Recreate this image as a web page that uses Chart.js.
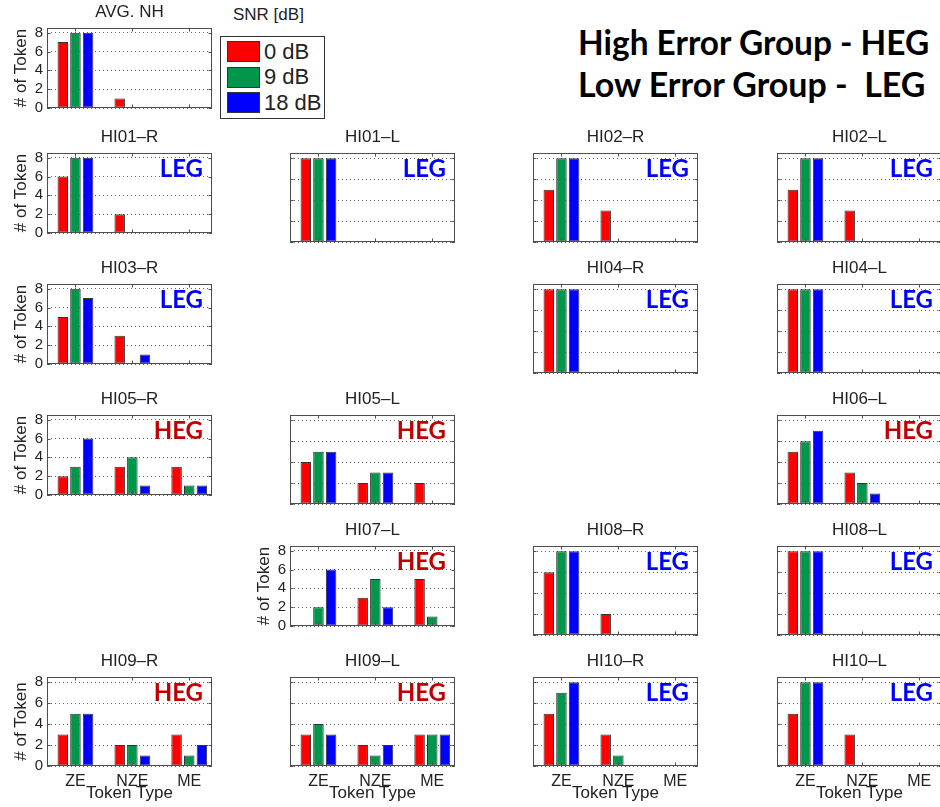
<!DOCTYPE html>
<html>
<head>
<meta charset="utf-8">
<script src="https://cdn.jsdelivr.net/npm/chart.js@4.4.1/dist/chart.umd.min.js"></script>
<style>
  body { margin: 0; width: 940px; height: 807px; overflow: hidden; background: #fff; position: relative;
         font-family: "Liberation Sans", Arial, sans-serif; color: #222; }
  canvas.panel { position: absolute; }
  .hdr { position: absolute; left: 578px; font-family: Lato, sans-serif; font-weight: bold; font-size: 30px;
         line-height: 1; white-space: pre; color: #000; }
  #snrTitle { position: absolute; left: 233px; top: 6px; font-size: 17px; line-height: 1; }
  #legendBox { position: absolute; left: 220px; top: 36px; width: 103px; height: 81px; border: 1px solid #333; }
  .lg-row { position: absolute; left: 6px; height: 21px; display: flex; align-items: center; }
  .lg-sw { width: 31px; height: 19px; border: 1px solid #333; margin-right: 4px; }
  .lg-tx { font-size: 22px; line-height: 1; }
</style>
</head>
<body>

<div class="hdr" id="hdr1" style="top:26px">High Error Group - HEG</div>
<div class="hdr" id="hdr2" style="top:68px">Low Error Group -  LEG</div>

<div id="snrTitle">SNR [dB]</div>
<div id="legendBox"></div>

<script>
// Token types on the x axis, SNR levels and y ticks
const categories = ['ZE', 'NZE', 'ME'];
const snrLabels = ['0 dB', '9 dB', '18 dB'];
const snrColors = ['#ff0000', '#00964b', '#0000ff'];
const yTicks = [0, 2, 4, 6, 8];

// each panel: [0 dB, 9 dB, 18 dB], values for ZE / NZE / ME
const avgNH = [[7, 1, 0], [8, 0, 0], [8, 0, 0]];
const hi01R = [[6, 2, 0], [8, 0, 0], [8, 0, 0]];
const hi01L = [[8, 0, 0], [8, 0, 0], [8, 0, 0]];
const hi02R = [[5, 3, 0], [8, 0, 0], [8, 0, 0]];
const hi02L = [[5, 3, 0], [8, 0, 0], [8, 0, 0]];
const hi03R = [[5, 3, 0], [8, 0, 0], [7, 1, 0]];
const hi04R = [[8, 0, 0], [8, 0, 0], [8, 0, 0]];
const hi04L = [[8, 0, 0], [8, 0, 0], [8, 0, 0]];
const hi05R = [[2, 3, 3], [3, 4, 1], [6, 1, 1]];
const hi05L = [[4, 2, 2], [5, 3, 0], [5, 3, 0]];
const hi06L = [[5, 3, 0], [6, 2, 0], [7, 1, 0]];
const hi07L = [[0, 3, 5], [2, 5, 1], [6, 2, 0]];
const hi08R = [[6, 2, 0], [8, 0, 0], [8, 0, 0]];
const hi08L = [[8, 0, 0], [8, 0, 0], [8, 0, 0]];
const hi09R = [[3, 2, 3], [5, 2, 1], [5, 1, 2]];
const hi09L = [[3, 2, 3], [4, 1, 3], [3, 2, 3]];
const hi10R = [[5, 3, 0], [7, 1, 0], [8, 0, 0]];
const hi10L = [[5, 3, 0], [8, 0, 0], [8, 0, 0]];

// grid of panels
const colX = [47, 290, 533, 777];
const rowY = [28, 153, 284, 415, 546, 677];
const PLOT_W = 165, PLOT_H = 89;
const PAD_L = 40, PAD_T = 28, PAD_R = 4;

const panels = [
    { title: 'AVG. NH', data: avgNH, col: 0, row: 0, tag: null, yLab: true },
    { title: 'HI01–R', data: hi01R, col: 0, row: 1, tag: 'LEG', yLab: true },
    { title: 'HI01–L', data: hi01L, col: 1, row: 1, tag: 'LEG' },
    { title: 'HI02–R', data: hi02R, col: 2, row: 1, tag: 'LEG' },
    { title: 'HI02–L', data: hi02L, col: 3, row: 1, tag: 'LEG' },
    { title: 'HI03–R', data: hi03R, col: 0, row: 2, tag: 'LEG', yLab: true },
    { title: 'HI04–R', data: hi04R, col: 2, row: 2, tag: 'LEG' },
    { title: 'HI04–L', data: hi04L, col: 3, row: 2, tag: 'LEG' },
    { title: 'HI05–R', data: hi05R, col: 0, row: 3, tag: 'HEG', yLab: true },
    { title: 'HI05–L', data: hi05L, col: 1, row: 3, tag: 'HEG' },
    { title: 'HI06–L', data: hi06L, col: 3, row: 3, tag: 'HEG' },
    { title: 'HI07–L', data: hi07L, col: 1, row: 4, tag: 'HEG', yLab: true },
    { title: 'HI08–R', data: hi08R, col: 2, row: 4, tag: 'LEG' },
    { title: 'HI08–L', data: hi08L, col: 3, row: 4, tag: 'LEG' },
    { title: 'HI09–R', data: hi09R, col: 0, row: 5, tag: 'HEG', yLab: true, xLab: true },
    { title: 'HI09–L', data: hi09L, col: 1, row: 5, tag: 'HEG', xLab: true },
    { title: 'HI10–R', data: hi10R, col: 2, row: 5, tag: 'LEG', xLab: true },
    { title: 'HI10–L', data: hi10L, col: 3, row: 5, tag: 'LEG', xLab: true }
];

// box, inner ticks, title and HEG/LEG tag (matlab look)
const panelDecor = {
    id: 'panelDecor',
    afterDraw(chart, args, opts) {
        const { ctx, chartArea: a, scales } = chart;
        const L = Math.round(a.left) + 0.5, R = Math.round(a.right) - 0.5;
        const T = Math.round(a.top) + 0.5, B = Math.round(a.bottom) - 0.5;
        ctx.save();
        ctx.strokeStyle = '#4d4d4d';
        ctx.lineWidth = 1;
        ctx.beginPath();
        categories.forEach((c, i) => {
            const px = Math.round(scales.x.getPixelForValue(i + 1)) + 0.5;
            ctx.moveTo(px, T); ctx.lineTo(px, T + 3);
            ctx.moveTo(px, B); ctx.lineTo(px, B - 3);
        });
        yTicks.forEach(v => {
            const py = Math.round(scales.y.getPixelForValue(v)) + 0.5;
            ctx.moveTo(L, py); ctx.lineTo(L + 3, py);
            ctx.moveTo(R, py); ctx.lineTo(R - 3, py);
        });
        ctx.stroke();
        ctx.strokeRect(L, T, R - L, B - T);

        ctx.fillStyle = '#222';
        ctx.font = '17px "Liberation Sans", Arial, sans-serif';
        ctx.textAlign = 'center';
        ctx.textBaseline = 'alphabetic';
        ctx.fillText(opts.title, (a.left + a.right) / 2, a.top - 11);

        if (opts.tag) {
            ctx.font = 'bold 24px Lato, sans-serif';
            ctx.fillStyle = opts.tag === 'HEG' ? '#c00000' : '#0000ff';
            ctx.textAlign = 'right';
            ctx.fillText(opts.tag, a.right - 9, a.top + 24);
        }
        ctx.restore();
    }
};

panels.forEach(p => {
    const xh = p.xLab ? 42 : 4;
    const cv = document.createElement('canvas');
    cv.className = 'panel';
    cv.width = PAD_L + PLOT_W + PAD_R;
    cv.height = PAD_T + PLOT_H + xh;
    cv.style.left = (colX[p.col] - PAD_L) + 'px';
    cv.style.top = (rowY[p.row] - PAD_T) + 'px';
    document.body.appendChild(cv);

    new Chart(cv.getContext('2d'), {
        type: 'bar',
        data: {
            datasets: p.data.map((vals, k) => ({
                label: snrLabels[k],
                data: vals.map((v, i) => ({ x: i + 1, y: v })),
                backgroundColor: snrColors[k],
                borderColor: '#333',
                borderWidth: 1,
                borderSkipped: false,
                categoryPercentage: 0.667,
                barPercentage: 0.83
            }))
        },
        options: {
            responsive: false,
            animation: false,
            events: [],
            layout: { padding: { left: 0, top: PAD_T, right: PAD_R, bottom: 0 } },
            plugins: {
                legend: { display: false },
                tooltip: { enabled: false },
                panelDecor: { title: p.title, tag: p.tag }
            },
            scales: {
                x: {
                    type: 'linear',
                    offset: false,
                    min: 0.5,
                    max: 3.4,
                    afterBuildTicks: s => { s.ticks = categories.map((c, i) => ({ value: i + 1 })); },
                    afterFit: s => { s.height = xh; },
                    grid: { display: false, drawTicks: false },
                    border: { display: false },
                    ticks: {
                        display: !!p.xLab,
                        autoSkip: false,
                        maxRotation: 0,
                        padding: 6,
                        color: '#222',
                        font: { family: '"Liberation Sans", Arial', size: 16 },
                        callback: v => categories[v - 1]
                    },
                    title: {
                        display: !!p.xLab,
                        text: 'Token Type',
                        color: '#222',
                        padding: { top: 0, bottom: 4 },
                        font: { family: '"Liberation Sans", Arial', size: 17 }
                    }
                },
                y: {
                    min: 0,
                    max: 8.5,
                    afterBuildTicks: s => { s.ticks = yTicks.map(v => ({ value: v })); },
                    afterFit: s => { s.width = PAD_L; },
                    grid: { color: '#666', lineWidth: 1, drawTicks: false, borderDash: [1, 3] },
                    border: { display: false, dash: [1, 3] },
                    ticks: {
                        display: !!p.yLab,
                        padding: 4,
                        color: '#222',
                        font: { family: '"Liberation Sans", Arial', size: 15 }
                    },
                    title: {
                        display: !!p.yLab,
                        text: '# of Token',
                        color: '#222',
                        padding: { top: 4, bottom: 4 },
                        font: { family: '"Liberation Sans", Arial', size: 17 }
                    }
                }
            }
        },
        plugins: [panelDecor]
    });
});

// legend entries
const box = document.getElementById('legendBox');
snrLabels.forEach((lab, k) => {
    const row = document.createElement('div');
    row.className = 'lg-row';
    row.style.top = (4 + k * 25.7) + 'px';
    row.innerHTML = '<div class="lg-sw" style="background:' + snrColors[k] + '"></div><span class="lg-tx">' + lab + '</span>';
    box.appendChild(row);
});

// header lines fitted to the width in the picture
const mctx = document.createElement('canvas').getContext('2d');
[['hdr1', 352], ['hdr2', 349]].forEach(([id, w]) => {
    const el = document.getElementById(id);
    mctx.font = 'bold 30px Lato, sans-serif';
    const m = mctx.measureText(el.textContent).width;
    el.style.fontSize = (30 * w / m).toFixed(2) + 'px';
});
</script>
</body>
</html>
